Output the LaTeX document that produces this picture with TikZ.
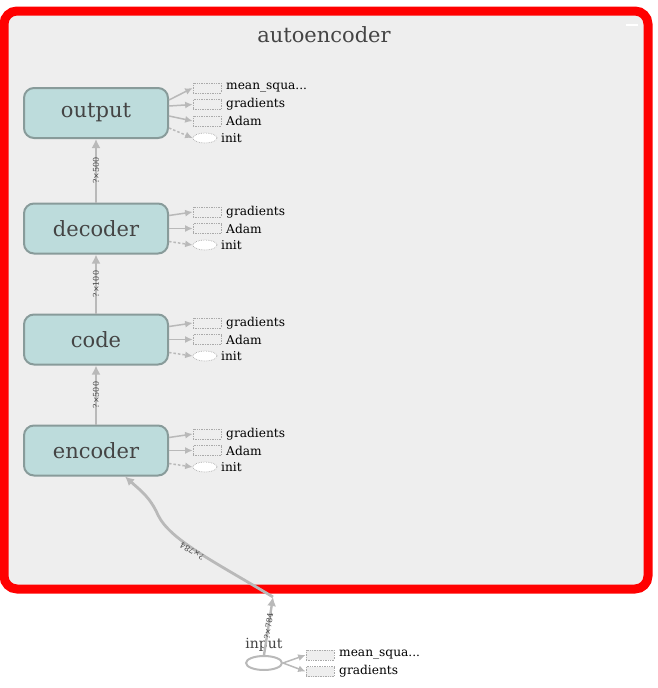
\documentclass[tikz,border=0pt]{standalone}
\usepackage{fontspec}
\setmainfont{DejaVu Serif}
\usetikzlibrary{arrows.meta,shapes.geometric}
\definecolor{grpfill}{HTML}{EEEEEE}
\definecolor{opfill}{HTML}{BDDCDC}
\definecolor{opdraw}{HTML}{889B9A}
\definecolor{edgec}{HTML}{B9B9B9}
\definecolor{dotc}{HTML}{AAAAAA}
\definecolor{txtc}{HTML}{444444}
\tikzset{
  opbox/.style={draw=opdraw, line width=2pt, fill=opfill, rounded corners=10pt,
    minimum width=144pt, minimum height=50pt, inner sep=0pt, text=txtc,
    font=\fontsize{21}{24}\selectfont},
  siderect/.style={draw=dotc, densely dotted, line width=0.7pt, fill=grpfill,
    minimum width=28pt, minimum height=10pt, inner sep=0pt},
  sideell/.style={ellipse, draw=dotc, densely dotted, line width=0.7pt, fill=white,
    minimum width=24pt, minimum height=10pt, inner sep=0pt},
  sidelab/.style={anchor=west, inner sep=0pt, font=\fontsize{12.2}{14}\selectfont, text=black},
  flow/.style={draw=edgec, line width=2.8pt, -{Latex[length=9pt,width=9pt]}},
  thin/.style={draw=edgec, line width=1.5pt, -{Latex[length=7.5pt,width=7pt]}},
  thindash/.style={thin, dashed, dash pattern=on 2.5pt off 2pt},
  elab/.style={font=\fontsize{8}{9}\selectfont, text=txtc, inner sep=0.5pt}
}
\begin{document}
\begin{tikzpicture}[x=1pt,y=-1pt]
\useasboundingbox (0,0) rectangle (658,688);
% group box
\draw[red, line width=9pt, fill=grpfill, rounded corners=13pt] (4,11) rectangle (648,589);
\node[text=txtc, font=\fontsize{21}{24}\selectfont] (title) at (324,35) {autoencoder};
\draw[white, line width=1.5pt] (626,25) -- (638,25);

% main ops
\node[opbox] (output)  at (96,113) {output};
\node[opbox] (decoder) at (96,228.5) {decoder};
\node[opbox] (code)    at (96,339.5) {code};
\node[opbox] (encoder) at (96,450.5) {encoder};

% flows
\draw[flow] (decoder.north) -- node[elab, rotate=90] {?×500} (output.south);
\draw[flow] (code.north) -- node[elab, rotate=90] {?×100} (decoder.south);
\draw[flow] (encoder.north) -- node[elab, rotate=90] {?×500} (code.south);

% output side nodes
\node[siderect] (o1) at (207,88) {};
\node[siderect] (o2) at (207,104.5) {};
\node[siderect] (o3) at (207,121) {};
\node[sideell]  (o4) at (205,138) {};
\node[sidelab] (o1l) at (226,88) {mean\_squa...};
\node[sidelab] (o2l) at (226,104.5) {gradients};
\node[sidelab] (o3l) at (226,121) {Adam};
\node[sidelab] (o4l) at (221,138) {init};
\draw[thin] ([yshift=13pt]output.east) -- (o1.west);
\draw[thin] ([yshift=7pt]output.east) -- (o2.west);
\draw[thin] ([yshift=-3pt]output.east) -- (o3.west);
\draw[thindash] ([yshift=-15pt]output.east) -- (o4.west);

% decoder side nodes
\node[siderect] (d1) at (207,212) {};
\node[siderect] (d2) at (207,228.5) {};
\node[sideell]  (d3) at (205,245) {};
\node[sidelab] (d1l) at (226,212) {gradients};
\node[sidelab] (d2l) at (226,228.5) {Adam};
\node[sidelab] (d3l) at (221,245) {init};
\draw[thin] ([yshift=13pt]decoder.east) -- (d1.west);
\draw[thin] (decoder.east) -- (d2.west);
\draw[thindash] ([yshift=-13pt]decoder.east) -- (d3.west);

% code side nodes
\node[siderect] (c1) at (207,323) {};
\node[siderect] (c2) at (207,339.5) {};
\node[sideell]  (c3) at (205,356) {};
\node[sidelab] (c1l) at (226,323) {gradients};
\node[sidelab] (c2l) at (226,339.5) {Adam};
\node[sidelab] (c3l) at (221,356) {init};
\draw[thin] ([yshift=13pt]code.east) -- (c1.west);
\draw[thin] (code.east) -- (c2.west);
\draw[thindash] ([yshift=-13pt]code.east) -- (c3.west);

% encoder side nodes
\node[siderect] (e1) at (207,434) {};
\node[siderect] (e2) at (207,450.5) {};
\node[sideell]  (e3) at (205,467) {};
\node[sidelab] (e1l) at (226,434) {gradients};
\node[sidelab] (e2l) at (226,450.5) {Adam};
\node[sidelab] (e3l) at (221,467) {init};
\draw[thin] ([yshift=13pt]encoder.east) -- (e1.west);
\draw[thin] (encoder.east) -- (e2.west);
\draw[thindash] ([yshift=-13pt]encoder.east) -- (e3.west);

% input
\node[ellipse, draw=edgec, line width=2pt, fill=white, minimum width=36pt, minimum height=14pt, inner sep=0pt] (input) at (264,663) {};
\node[text=txtc, font=\fontsize{14}{16}\selectfont, inner sep=0pt] (inputl) at (264,645) {input};
\node[siderect] (i1) at (320,655) {};
\node[siderect] (i2) at (320,671.5) {};
\node[sidelab] (i1l) at (339,655) {mean\_squa...};
\node[sidelab] (i2l) at (339,671.5) {gradients};
\draw[thin] (input.east) -- (i1.west);
\draw[thin] (input.east) -- (i2.west);

\coordinate (entry) at (273,597);
\draw[flow, line width=2.4pt] (input.north) -- node[elab, rotate=82] {?×784} (entry);
\draw[flow] (entry) .. controls (215,562) and (170,540) .. (158,515)
  .. controls (150,497) and (140,490) .. ([xshift=29pt]encoder.south);
\node[elab, rotate=150] (lab784) at (192,551) {?×784};
\end{tikzpicture}
\end{document}
